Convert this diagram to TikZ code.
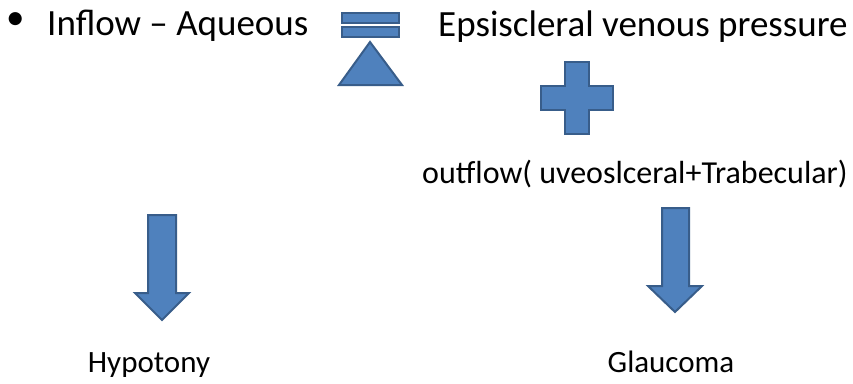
\documentclass[tikz,border=0pt]{standalone}
\usepackage{xcolor}
\usepackage{fontspec}
\setmainfont{Carlito}
\usepackage{tikz}
\usetikzlibrary{positioning}

\definecolor{blokfill}{RGB}{79,129,189}
\definecolor{blokline}{RGB}{56,93,138}

\begin{document}
\begin{tikzpicture}[x=1pt, y=-1pt,
        blok/.style={fill=blokfill, draw=blokline, line width=2pt, line join=miter},
        bigtxt/.style={inner sep=0pt, font=\fontsize{37}{41}\selectfont},
        midtxt/.style={inner sep=0pt, font=\fontsize{32}{36}\selectfont},
        smalltxt/.style={inner sep=0pt, font=\fontsize{31}{35}\selectfont}]

        \useasboundingbox (0,0) rectangle (853,383);

        % 定义文字节点
        \node (bullet) [bigtxt, anchor=base west] at (6,29) {•};
        \node (inflow) [bigtxt, anchor=base west] at (47,35) {Inflow – Aqueous};
        \node (episcleral) [bigtxt, anchor=base west] at (438,36) {Epsiscleral venous pressure};
        \node (outflow) [midtxt, anchor=base west] at (422,183) {outflow( uveoslceral+Trabecular)};
        \node (hypotony) [smalltxt, anchor=base] at (149,372) {Hypotony};
        \node (glaucoma) [smalltxt, anchor=base] at (671,372) {Glaucoma};

        % 等号和三角形
        \draw[blok] (342,13) rectangle (399,23);
        \draw[blok] (342,27) rectangle (399,37);
        \draw[blok] (370,42) -- (402,85) -- (339,85) -- cycle;

        % 加号
        \draw[blok] (565,62) -- (589,62) -- (589,86) -- (613,86) -- (613,110) -- (589,110)
            -- (589,134) -- (565,134) -- (565,110) -- (541,110) -- (541,86) -- (565,86) -- cycle;

        % 箭头
        \draw[blok] (148,215) -- (176,215) -- (176,293) -- (189,293) -- (162,320)
            -- (135,293) -- (148,293) -- cycle;
        \draw[blok] (662,208) -- (689,208) -- (689,286) -- (702,286) -- (675,312)
            -- (648,286) -- (662,286) -- cycle;

    \end{tikzpicture}
\end{document}
